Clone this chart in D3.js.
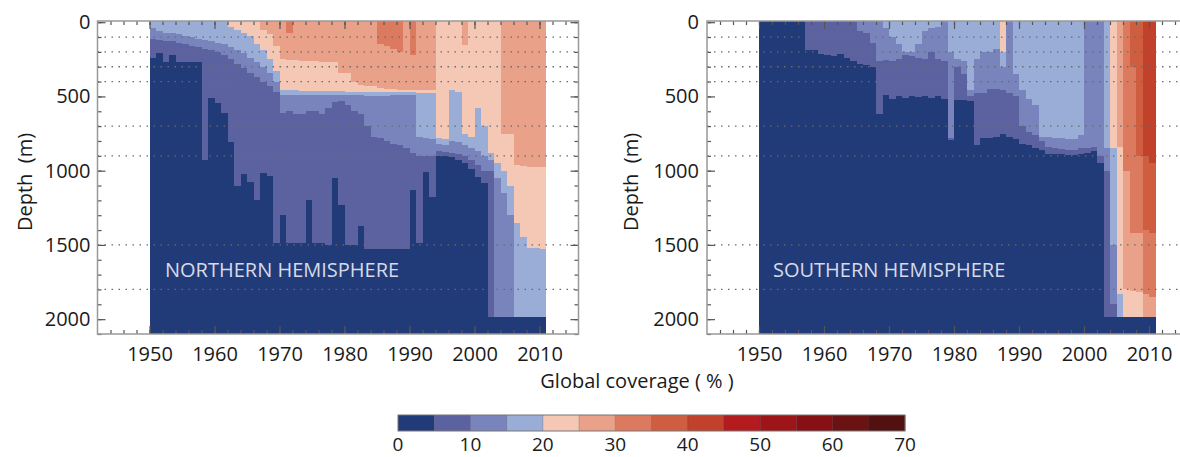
<!DOCTYPE html>
<html>
<head>
<meta charset="utf-8">
<script src="https://cdn.jsdelivr.net/npm/d3@7"></script>
<style>
    body { margin: 0; background: #fff; }
    svg { display: block; font-family: "Open Sans", "DejaVu Sans", sans-serif; }
</style>
</head>
<body>
<svg id="chart" width="1180" height="457"></svg>
<script>

// one column per year
var years = [1950, 1951, 1952, 1953, 1954, 1955, 1956, 1957, 1958, 1959,
             1960, 1961, 1962, 1963, 1964, 1965, 1966, 1967, 1968, 1969,
             1970, 1971, 1972, 1973, 1974, 1975, 1976, 1977, 1978, 1979,
             1980, 1981, 1982, 1983, 1984, 1985, 1986, 1987, 1988, 1989,
             1990, 1991, 1992, 1993, 1994, 1995, 1996, 1997, 1998, 1999,
             2000, 2001, 2002, 2003, 2004, 2005, 2006, 2007, 2008, 2009, 2010];

// depth (m) below which the coverage drops under 5, 10, 15 ... %
// 0 = already under that value at the surface
var nhBelow5 = [240, 205, 265, 222, 270, 270, 270, 270, 930, 510,
                545, 610, 810, 1100, 1025, 1075, 1200, 1015, 1035, 1490,
                1300, 1490, 1490, 1490, 1200, 1490, 1490, 1500, 1050, 1230,
                1500, 1500, 1370, 1525, 1525, 1525, 1525, 1525, 1525, 1525,
                1130, 1490, 1010, 1180, 900, 900, 910, 930, 950, 990,
                1040, 1080, 1985, 1985, 1985, 1985, 1985, 1985, 1985, 1985, 1985];
var nhBelow10 = [110, 120, 130, 130, 140, 150, 160, 170, 180, 190,
                 200, 220, 250, 280, 310, 340, 370, 400, 430, 470,
                 610, 600, 615, 620, 600, 600, 620, 580, 540, 530,
                 560, 600, 620, 700, 770, 780, 800, 820, 830, 850,
                 880, 900, 900, 900, 870, 875, 880, 885, 900, 930,
                 960, 1000, 1000, 1985, 1985, 1985, 1985, 1985, 1985, 1985, 1985];
var nhBelow15 = [40, 60, 70, 70, 80, 90, 100, 110, 120, 130,
                 140, 150, 170, 190, 210, 240, 270, 300, 340, 400,
                 490, 490, 490, 490, 490, 490, 490, 490, 488, 488,
                 488, 488, 490, 495, 495, 495, 495, 490, 490, 490,
                 490, 770, 780, 790, 820, 830, 800, 810, 830, 850,
                 870, 900, 930, 1050, 1150, 1300, 1985, 1985, 1985, 1985, 1985];
var nhBelow20 = [0, 0, 0, 0, 0, 0, 0, 0, 0, 0,
                 0, 0, 30, 50, 70, 90, 150, 190, 250, 330,
                 460, 457, 460, 462, 462, 465, 465, 465, 465, 465,
                 468, 468, 470, 470, 470, 470, 470, 470, 470, 472,
                 472, 480, 480, 480, 780, 790, 460, 470, 750, 770,
                 580, 700, 880, 950, 1000, 1100, 1350, 1450, 1520, 1520, 1525];
var nhBelow25 = [0, 0, 0, 0, 0, 0, 0, 0, 0, 0,
                 0, 0, 0, 0, 0, 0, 0, 50, 80, 160,
                 250, 256, 256, 260, 260, 260, 270, 270, 270, 340,
                 340, 400, 420, 430, 430, 440, 450, 450, 455, 455,
                 460, 460, 460, 460, 0, 0, 0, 0, 155, 0,
                 0, 0, 0, 0, 750, 750, 960, 970, 975, 975, 975];
var nhBelow30 = [0, 0, 0, 0, 0, 0, 0, 0, 0, 0,
                 0, 0, 0, 0, 0, 0, 0, 0, 0, 0,
                 0, 75, 0, 0, 0, 0, 0, 0, 0, 0,
                 0, 0, 0, 0, 0, 150, 160, 180, 200, 0,
                 220, 0, 0, 0, 0, 0, 0, 0, 0, 0,
                 0, 0, 0, 0, 0, 0, 0, 0, 0, 0, 0];

var shBelow5 = [0, 0, 0, 0, 0, 0, 0, 184, 190, 211,
                220, 229, 215, 240, 260, 280, 290, 300, 615, 490,
                520, 500, 510, 500, 505, 500, 510, 500, 520, 795,
                525, 525, 530, 830, 780, 780, 770, 750, 770, 790,
                820, 830, 850, 860, 885, 885, 890, 895, 895, 890,
                880, 870, 950, 1985, 1985, 1985, 1985, 1985, 1985, 1985, 1985];
var shBelow10 = [0, 0, 0, 0, 0, 0, 0, 0, 0, 0,
                 0, 0, 0, 0, 0, 60, 76, 140, 260, 256,
                 260, 250, 220, 230, 240, 250, 200, 250, 260, 780,
                 300, 350, 500, 480, 480, 450, 450, 460, 480, 500,
                 700, 740, 760, 800, 840, 850, 855, 860, 860, 850,
                 850, 840, 900, 1000, 1900, 1985, 1985, 1985, 1985, 1985, 1985];
var shBelow15 = [0, 0, 0, 0, 0, 0, 0, 0, 0, 0,
                 0, 0, 0, 0, 0, 0, 0, 0, 0, 40,
                 100, 150, 200, 200, 150, 60, 40, 30, 0, 200,
                 250, 260, 457, 250, 200, 200, 180, 300, 0, 350,
                 460, 520, 560, 770, 770, 780, 780, 790, 790, 760,
                 0, 0, 0, 850, 1500, 1985, 1985, 1985, 1985, 1985, 1985];
var shBelow20 = [0, 0, 0, 0, 0, 0, 0, 0, 0, 0,
                 0, 0, 0, 0, 0, 0, 0, 0, 0, 0,
                 0, 0, 0, 0, 0, 0, 0, 0, 0, 0,
                 0, 0, 0, 0, 0, 0, 0, 200, 0, 0,
                 0, 0, 0, 0, 0, 0, 0, 0, 0, 0,
                 0, 0, 0, 0, 850, 1830, 1985, 1985, 1985, 1985, 1985];
var shBelow25 = [0, 0, 0, 0, 0, 0, 0, 0, 0, 0,
                 0, 0, 0, 0, 0, 0, 0, 0, 0, 0,
                 0, 0, 0, 0, 0, 0, 0, 0, 0, 0,
                 0, 0, 0, 0, 0, 0, 0, 0, 0, 0,
                 0, 0, 0, 0, 0, 0, 0, 0, 0, 0,
                 0, 0, 0, 0, 0, 840, 1800, 1810, 1820, 1985, 1985];
var shBelow30 = [0, 0, 0, 0, 0, 0, 0, 0, 0, 0,
                 0, 0, 0, 0, 0, 0, 0, 0, 0, 0,
                 0, 0, 0, 0, 0, 0, 0, 0, 0, 0,
                 0, 0, 0, 0, 0, 0, 0, 0, 0, 0,
                 0, 0, 0, 0, 0, 0, 0, 0, 0, 0,
                 0, 0, 0, 0, 0, 0, 1000, 1420, 1420, 1830, 1850];
var shBelow35 = [0, 0, 0, 0, 0, 0, 0, 0, 0, 0,
                 0, 0, 0, 0, 0, 0, 0, 0, 0, 0,
                 0, 0, 0, 0, 0, 0, 0, 0, 0, 0,
                 0, 0, 0, 0, 0, 0, 0, 0, 0, 0,
                 0, 0, 0, 0, 0, 0, 0, 0, 0, 0,
                 0, 0, 0, 0, 0, 0, 0, 300, 900, 1400, 1420];
var shBelow40 = [0, 0, 0, 0, 0, 0, 0, 0, 0, 0,
                 0, 0, 0, 0, 0, 0, 0, 0, 0, 0,
                 0, 0, 0, 0, 0, 0, 0, 0, 0, 0,
                 0, 0, 0, 0, 0, 0, 0, 0, 0, 0,
                 0, 0, 0, 0, 0, 0, 0, 0, 0, 0,
                 0, 0, 0, 0, 0, 0, 0, 0, 0, 900, 950];

// ticks and labels
var yearTicks = [1950, 1960, 1970, 1980, 1990, 2000, 2010];
var depthTicks = [0, 500, 1000, 1500, 2000];
var dottedDepths = [100, 200, 300, 400, 700, 900, 1500, 1800];
var coverageBins = [0, 5, 10, 15, 20, 25, 30, 35, 40, 45, 50, 55, 60, 65];
var coverageTicks = [0, 10, 20, 30, 40, 50, 60, 70];
var binColors = ['#213b78', '#5c62a0', '#7884bb', '#9aadd6', '#f5c8b6', '#e9a189', '#dc7a5f',
                 '#cf5d40', '#c2412b', '#b31b1e', '#9d1419', '#871015', '#6b1212', '#531011'];

var yearDomain = [1942, 2016];
var depthDomain = [-8, 2100];

var svg = d3.select('#chart');

function drawPanel(opts) {
    var x = d3.scaleLinear().domain(yearDomain).range(opts.xRange);
    var y = d3.scaleLinear().domain(depthDomain).range([21, 334]);
    var g = svg.append('g');
    var lim = function(v) { return v <= 0 ? depthDomain[0] : v; };

    // split every year column into coverage classes
    var cells = [];
    years.forEach(function(yr, i) {
	for (var k = 0; k <= opts.limits.length; k++) {
	    var top = k < opts.limits.length ? lim(opts.limits[k][i]) : depthDomain[0];
	    var bottom = k === 0 ? depthDomain[1] : lim(opts.limits[k - 1][i]);
	    if (bottom > top) cells.push({year: yr, top: top, bottom: bottom, cls: k});
	}
    });

    g.selectAll('rect.cell').data(cells).enter()
	.append('rect')
	.attr('class', 'cell')
	.attr('x', function(d) { return x(d.year); })
	.attr('width', function(d) { return x(d.year + 1) - x(d.year) + 0.4; })
	.attr('y', function(d) { return y(d.top); })
	.attr('height', function(d) { return y(d.bottom) - y(d.top); })
	.attr('fill', function(d) { return binColors[d.cls]; })
	.attr('shape-rendering', 'crispEdges');

    g.selectAll('line.dot').data(dottedDepths).enter()
	.append('line')
	.attr('x1', opts.xRange[0]).attr('x2', opts.xRange[1])
	.attr('y1', function(d) { return y(d); })
	.attr('y2', function(d) { return y(d); })
	.attr('stroke', '#6a6a6a')
	.attr('stroke-width', 1.3)
	.attr('stroke-dasharray', '1.5,5.5');

    var minorYears = d3.range(1944, 2016, 2);
    var minorDepths = d3.range(0, 2101, 100);
    var axes = [
	{gen: d3.axisBottom(x).tickValues(yearTicks).tickSize(-8).tickPadding(13).tickFormat(d3.format('d')),
	 at: 'translate(0,' + y(depthDomain[1]) + ')'},
	{gen: d3.axisBottom(x).tickValues(minorYears).tickSize(-4).tickFormat(''),
	 at: 'translate(0,' + y(depthDomain[1]) + ')'},
	{gen: d3.axisTop(x).tickValues(yearTicks).tickSize(-8).tickFormat(''),
	 at: 'translate(0,' + y(depthDomain[0]) + ')'},
	{gen: d3.axisTop(x).tickValues(minorYears).tickSize(-4).tickFormat(''),
	 at: 'translate(0,' + y(depthDomain[0]) + ')'},
	{gen: d3.axisLeft(y).tickValues(depthTicks).tickSize(-8).tickPadding(opts.yPad).tickFormat(d3.format('d')),
	 at: 'translate(' + opts.xRange[0] + ',0)'},
	{gen: d3.axisLeft(y).tickValues(minorDepths).tickSize(-4).tickFormat(''),
	 at: 'translate(' + opts.xRange[0] + ',0)'},
	{gen: d3.axisRight(y).tickValues(depthTicks).tickSize(-8).tickFormat(''),
	 at: 'translate(' + opts.xRange[1] + ',0)'},
	{gen: d3.axisRight(y).tickValues(minorDepths).tickSize(-4).tickFormat(''),
	 at: 'translate(' + opts.xRange[1] + ',0)'}
    ];
    axes.forEach(function(a) {
	var ax = g.append('g').attr('transform', a.at).call(a.gen);
	ax.select('.domain').remove();
	ax.selectAll('line').attr('stroke', '#555').attr('stroke-width', 1.2);
	ax.selectAll('text').attr('font-size', 20).attr('fill', '#1a1a1a')
	    .attr('font-family', '"Open Sans", sans-serif');
    });

    g.append('rect')
	.attr('x', opts.xRange[0]).attr('y', y(depthDomain[0]))
	.attr('width', opts.xRange[1] - opts.xRange[0])
	.attr('height', y(depthDomain[1]) - y(depthDomain[0]))
	.attr('fill', 'none').attr('stroke', '#999').attr('stroke-width', 1.5);

    g.append('text')
	.attr('transform', 'translate(' + opts.titleX + ',182) rotate(-90)')
	.attr('text-anchor', 'middle')
	.attr('dominant-baseline', 'central')
	.attr('font-size', 20).attr('fill', '#1a1a1a')
	.attr('xml:space', 'preserve')
	.text('Depth  (m)');

    g.append('text')
	.attr('x', opts.labelX).attr('y', 277)
	.attr('font-size', 20).attr('fill', '#d6dae9')
	.text(opts.label);
}

drawPanel({xRange: [97.5, 578.5], yPad: 7, titleX: 24, labelX: 165, label: 'NORTHERN HEMISPHERE',
	   limits: [nhBelow5, nhBelow10, nhBelow15, nhBelow20, nhBelow25, nhBelow30]});
drawPanel({xRange: [707, 1188], yPad: 8, titleX: 630, labelX: 773, label: 'SOUTHERN HEMISPHERE',
	   limits: [shBelow5, shBelow10, shBelow15, shBelow20, shBelow25, shBelow30, shBelow35, shBelow40]});

// colour bar
var cb = d3.scaleLinear().domain([0, 70]).range([398, 905]);
var bar = svg.append('g');
bar.selectAll('rect.bin').data(coverageBins).enter()
    .append('rect')
    .attr('x', function(d) { return cb(d); })
    .attr('width', function(d) { return cb(d + 5) - cb(d) + 0.3; })
    .attr('y', 415).attr('height', 16)
    .attr('fill', function(d, i) { return binColors[i]; });
bar.selectAll('line.sep').data(coverageBins.slice(1)).enter()
    .append('line')
    .attr('x1', function(d) { return cb(d); }).attr('x2', function(d) { return cb(d); })
    .attr('y1', 415).attr('y2', 431)
    .attr('stroke', '#444').attr('stroke-opacity', 0.35).attr('stroke-width', 0.8);
bar.append('rect')
    .attr('x', cb(0)).attr('y', 415).attr('width', cb(70) - cb(0)).attr('height', 16)
    .attr('fill', 'none').attr('stroke', '#777').attr('stroke-width', 1);
bar.selectAll('text.tick').data(coverageTicks).enter()
    .append('text')
    .attr('x', function(d) { return cb(d); }).attr('y', 451)
    .attr('text-anchor', 'middle')
    .attr('font-size', 19).attr('fill', '#1a1a1a')
    .text(function(d) { return d; });
bar.append('text')
    .attr('x', 637).attr('y', 388)
    .attr('text-anchor', 'middle')
    .attr('font-size', 20).attr('fill', '#1a1a1a')
    .text('Global coverage ( % )');

</script>
</body>
</html>
